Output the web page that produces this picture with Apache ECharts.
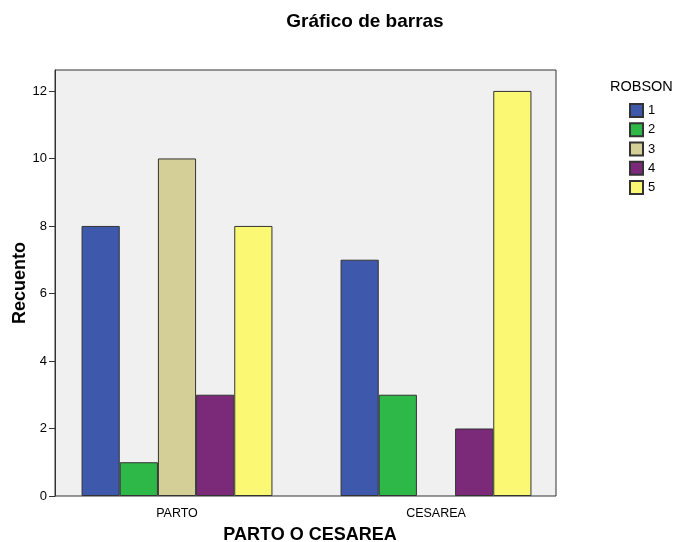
<!DOCTYPE html>
<html><head><meta charset="utf-8">
<script src="https://cdn.jsdelivr.net/npm/echarts@6/dist/echarts.min.js"></script>
<style>html,body{margin:0;padding:0;background:#fff}#c{width:676px;height:542px}</style>
</head><body><div id="c"></div>
<script>
var categories = ['PARTO', 'CESAREA'];
var seriesNames = ['1', '2', '3', '4', '5'];
var robson1 = [8, 7];
var robson2 = [1, 3];
var robson3 = [10, 0];
var robson4 = [3, 2];
var robson5 = [8, 12];
var colors = ['#3e58ac', '#2eb848', '#d4cf96', '#7b2a7a', '#fbf873'];
var values = [robson1, robson2, robson3, robson4, robson5];
var F = 'Liberation Sans, Arial, sans-serif';
var chart = echarts.init(document.getElementById('c'));
chart.setOption({
  animation: false,
  title: [
    {text: 'Gráfico de barras', left: 365, top: 12, textAlign: 'center', padding: 0,
     textStyle: {fontFamily: F, fontSize: 19, fontWeight: 'bold', color: '#000'}},
    {text: 'ROBSON', left: 610, top: 79, padding: 0,
     textStyle: {fontFamily: F, fontSize: 14.5, fontWeight: 'normal', color: '#000'}}
  ],
  legend: {
    orient: 'vertical', left: 629, top: 103, padding: 0, itemWidth: 13, itemHeight: 13, itemGap: 4.25,
    icon: 'rect', textStyle: {fontFamily: F, fontSize: 13, color: '#000'},
    data: seriesNames
  },
  grid: [
    {left: 55, top: 70, right: 120, bottom: 46, show: true, outerBoundsMode: 'none',
     containLabel: false, backgroundColor: '#f0f0f0', borderColor: '#333', borderWidth: 1},
    {left: 47.5, top: 70, right: 110.5, bottom: 46, show: false, outerBoundsMode: 'none',
     containLabel: false}
  ],
  xAxis: [
    {gridIndex: 0, type: 'category', data: categories, show: false},
    {gridIndex: 1, type: 'category', data: categories,
     name: 'PARTO O CESAREA', nameLocation: 'middle', nameGap: 30, nameMoveOverlap: false,
     nameTextStyle: {fontFamily: F, fontSize: 18, fontWeight: 'bold', color: '#000', padding: [0, 0, 0, 7]},
     axisLine: {show: false},
     axisTick: {alignWithLabel: true, length: 6, lineStyle: {color: '#333'}},
     axisLabel: {fontFamily: F, fontSize: 12.5, color: '#000', margin: 11}}
  ],
  yAxis: [
    {gridIndex: 0, type: 'value', min: 0, max: 12.62, interval: 2,
     name: 'Recuento', nameLocation: 'middle', nameGap: 26, nameMoveOverlap: false,
     nameTextStyle: {fontFamily: F, fontSize: 18, fontWeight: 'bold', color: '#000'},
     axisLine: {show: true, lineStyle: {color: '#333'}},
     axisTick: {show: true, length: 6, lineStyle: {color: '#333'}},
     splitLine: {show: false},
     axisLabel: {fontFamily: F, fontSize: 13, color: '#000', margin: 8, showMaxLabel: false}},
    {gridIndex: 1, type: 'value', min: 0, max: 12.62, interval: 2, show: false,
     splitLine: {show: false}}
  ],
  series: seriesNames.map(function (n, i) {
    return {
      name: n, type: 'bar', xAxisIndex: 1, yAxisIndex: 1,
      data: values[i].map(function (v) {
        return v === 0 ? {value: v, itemStyle: {borderWidth: 0}} : v;
      }),
      barGap: '0%', barCategoryGap: '26.3%',
      itemStyle: {color: colors[i], borderColor: '#333', borderWidth: 1}
    };
  })
});
</script></body></html>
